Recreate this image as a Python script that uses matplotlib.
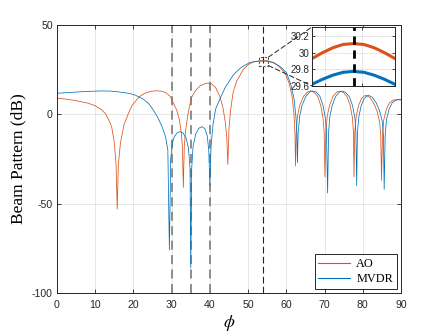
import matplotlib
matplotlib.use("Agg")
import matplotlib.pyplot as plt
from matplotlib.patches import Rectangle, ConnectionPatch

# ---------------- data ----------------
ao_deg = [0, 2, 4, 6, 8.2, 10, 11.5, 12.6, 13.5, 14.3, 15.0, 15.45, 15.75, 16.05, 16.6,
          17.5, 18.7, 19.5, 20.4, 21.6, 23, 24.5, 26, 27.5, 28.7, 29.6, 30.4, 31.3, 32.0,
          32.5, 32.8, 33.05, 33.3, 33.6, 34.1, 34.6, 35.2, 36.3, 37.5, 39, 40.3, 41.5,
          42.6, 43.4, 44.0, 44.4, 44.7, 45.0, 45.4, 46.1, 47, 48.7, 50, 51.4, 53, 54, 55,
          56.5, 58, 59.7, 60.8, 61.5, 62.0, 62.25, 62.4, 62.6, 62.9, 63.5, 64.5, 65.5,
          66.3, 67.2, 68.2, 69.0, 69.6, 69.9, 70.1, 70.35, 70.7, 71.3, 72.2, 73.2, 74.0,
          74.9, 75.9, 76.7, 77.3, 77.55, 77.7, 77.9, 78.3, 78.9, 79.6, 80.3, 81.0, 81.8,
          82.8, 83.7, 84.4, 84.7, 84.9, 85.15, 85.5, 86.2, 87.0, 88.0, 89, 90]
ao_db = [9.0, 8.6, 8.0, 7.2, 6.2, 4.8, 2.8, 0.6, -2.8, -7, -16, -28, -53, -28, -16,
         -6, 0.6, 4.5, 7, 10, 11.8, 12.8, 13.2, 12.9, 11.8, 10, 6.5, 2.5, -3,
         -10, -18, -41, -18, -10, -2, 4, 9.5, 13.5, 16, 17.4, 17.3, 15,
         10, 4, -4, -12, -28, -8, 2, 12.5, 18.5, 25, 27.8, 29.3, 30.0, 30.1, 30.0,
         29.2, 27, 23, 17, 10, 0, -10, -29, -10, -1, 5, 10, 12.5,
         13.1, 12.5, 10, 5, -2, -10, -35, -10, -1, 5, 10, 12.5, 13.0,
         12.3, 9.8, 5, -2, -10, -35, -10, -1, 5, 8.5, 10.3, 10.5, 9.5,
         6.5, 2, -4, -12, -37, -12, -3, 3, 6.5, 8.0, 8.2, 8.0]

mvdr_deg = [0, 3, 6, 9, 12, 14, 16, 18, 19.1, 20.4, 22.6, 24, 25.2, 26.3, 27.4, 28.4,
            29.0, 29.4, 29.75, 30.2, 30.7, 31.5, 32.2, 33.0, 33.8, 34.4, 34.8, 35.0,
            35.25, 35.6, 36.3, 37.1, 37.9, 38.7, 39.3, 39.7, 40.0, 40.3, 40.8, 41.5,
            42.6, 44, 46.1, 48, 50.5, 52.5, 54, 55.5, 57, 58.5, 60, 61.2, 62.0, 62.5,
            62.75, 62.9, 63.1, 63.5, 64.1, 65.1, 66.1, 66.9, 67.8, 68.8, 69.6, 70.2,
            70.5, 70.8, 71.05, 71.4, 72.0, 72.9, 73.9, 74.6, 75.5, 76.5, 77.3, 77.95,
            78.2, 78.4, 78.6, 79.0, 79.6, 80.3, 81.0, 81.7, 82.5, 83.5, 84.4, 85.1,
            85.4, 85.6, 85.85, 86.2, 86.9, 87.7, 88.7, 89.5, 90]
mvdr_db = [11.8, 12.2, 12.6, 12.9, 13.1, 13.0, 12.6, 12.0, 11.6, 10.8, 8.5, 6.0, 2.4,
           -1.5, -6.5, -12.5, -20, -76, -25, -16, -12.5, -10.2, -9.7, -10.5, -13.5,
           -19, -30, -86, -30, -18, -11, -7.8, -6.9, -8, -12, -20, -40, -18, -6, 3,
           8.5, 15, 22, 26, 29.1, 29.7, 29.8, 29.6, 28.5, 26.5, 23.5, 16.5, 9, -1,
           -10, -27, -10, -1, 5, 10, 12.5, 13.1, 12.5, 10, 5, -2,
           -10, -44, -10, -1, 5, 10, 12.5, 13.0, 12.3, 9.8, 5, -2,
           -10, -40, -10, -1, 5, 8.5, 10.3, 10.5, 9.5, 6.5, 2, -4,
           -12, -42, -12, -3, 3, 6.5, 8.0, 8.3, 8.3]

# zoomed-in values around the main lobe (inset)
inset_deg = [53.0, 53.25, 53.5, 53.75, 54.0, 54.25, 54.5, 54.75, 55.0]
inset_ao = [29.93, 30.00, 30.06, 30.10, 30.11, 30.10, 30.06, 30.00, 29.93]
inset_mvdr = [29.62, 29.68, 29.73, 29.765, 29.775, 29.765, 29.73, 29.68, 29.62]

marked_angles = [30, 35, 40]
target_angle = 54
series_names = ["AO", "MVDR"]
x_ticks = [0, 10, 20, 30, 40, 50, 60, 70, 80, 90]
y_ticks = [-100, -50, 0, 50]
inset_y_ticks = [29.6, 29.8, 30.0, 30.2]

# ---------------- style ----------------
c_ao = "#D95319"
c_mv = "#0072BD"
axc = "#262626"
plt.rcParams["axes.unicode_minus"] = False
plt.rcParams["mathtext.fontset"] = "stix"

fig = plt.figure(figsize=(4.43, 3.32), dpi=100)
ax = fig.add_axes([57 / 443, 39 / 332, 344 / 443, 268 / 332])

for a in marked_angles:
    ax.axvline(a, color="#858585", lw=1.3, ls=(0, (5, 3)), zorder=1.5)
ax.axvline(target_angle, color="#222222", lw=0.8, ls=(0, (6, 3)), zorder=1.5)

ax.plot(ao_deg, ao_db, color=c_ao, lw=0.55, label=series_names[0], zorder=2)
ax.plot(mvdr_deg, mvdr_db, color=c_mv, lw=0.55, label=series_names[1], zorder=2.1)

ax.set_xlim(0, 90)
ax.set_ylim(-100, 50)
ax.set_xticks(x_ticks)
ax.set_yticks(y_ticks)
ax.grid(True, color="#e3e3e3", lw=0.6)
ax.set_axisbelow(True)
for s in ax.spines.values():
    s.set_color(axc)
    s.set_linewidth(0.7)
ax.tick_params(direction="in", length=3, width=0.6, colors=axc, top=True, right=True,
               labelsize=7.6)
ax.tick_params(axis="x", pad=5)
ax.tick_params(axis="y", pad=3)
for lab in ax.get_xticklabels() + ax.get_yticklabels():
    lab.set_fontfamily("Liberation Sans")

ax.set_ylabel("Beam Pattern (dB)", family="Liberation Serif", fontsize=12.5, color="black")
ax.yaxis.set_label_coords(-0.088, 0.5)
ax.set_xlabel(r"$\phi$", fontsize=12.5, color="black")
ax.xaxis.set_label_coords(0.5, -0.075)

leg = ax.legend(loc="lower right", prop={"family": "Liberation Serif", "size": 8.8},
                handlelength=2.6, handletextpad=0.5, borderaxespad=0.35,
                fancybox=False, framealpha=1, edgecolor=axc, borderpad=0.3,
                labelspacing=0.25)
leg.get_frame().set_linewidth(0.7)
for ln in leg.get_lines():
    ln.set_linewidth(0.8)

# zoom rectangle
rx0, rx1, ry0, ry1 = 52.8, 55.3, 27.3, 32.0
ax.add_patch(Rectangle((rx0, ry0), rx1 - rx0, ry1 - ry0, fill=False, ec="#555555",
                       lw=0.8, ls=(0, (2, 1.5)), zorder=3))

# inset
axins = fig.add_axes([312 / 443, (332 - 86) / 332, 83 / 443, 59 / 332])
axins.plot(inset_deg, inset_ao, color=c_ao, lw=2.2)
axins.plot(inset_deg, inset_mvdr, color=c_mv, lw=2.2)
axins.axvline(target_angle, color="black", lw=2.0, ls=(0, (3, 2)))
axins.set_xlim(53.0, 55.0)
axins.set_ylim(29.6, 30.31)
axins.set_yticks(inset_y_ticks)
axins.set_yticklabels(["29.6", "29.8", "30", "30.2"])
axins.set_xticks([53.31, 54.2])
axins.set_xticklabels([])
axins.grid(True, color="#e3e3e3", lw=0.6)
axins.set_axisbelow(True)
for s in axins.spines.values():
    s.set_color(axc)
    s.set_linewidth(0.7)
axins.tick_params(direction="in", length=2, width=0.6, colors=axc, top=True, right=True,
                  labelsize=7, pad=2)
for lab in axins.get_yticklabels():
    lab.set_fontfamily("Liberation Sans")

for ya, yb in [(ry1, 1.0), (ry0, 0.0)]:
    cp = ConnectionPatch(xyA=(rx1, ya), coordsA=ax.transData, xyB=(0.0, yb),
                         coordsB=axins.transAxes, color="#222222", lw=0.7,
                         ls=(0, (5, 3)), zorder=4)
    fig.add_artist(cp)

fig.savefig("out.png", dpi=100)
